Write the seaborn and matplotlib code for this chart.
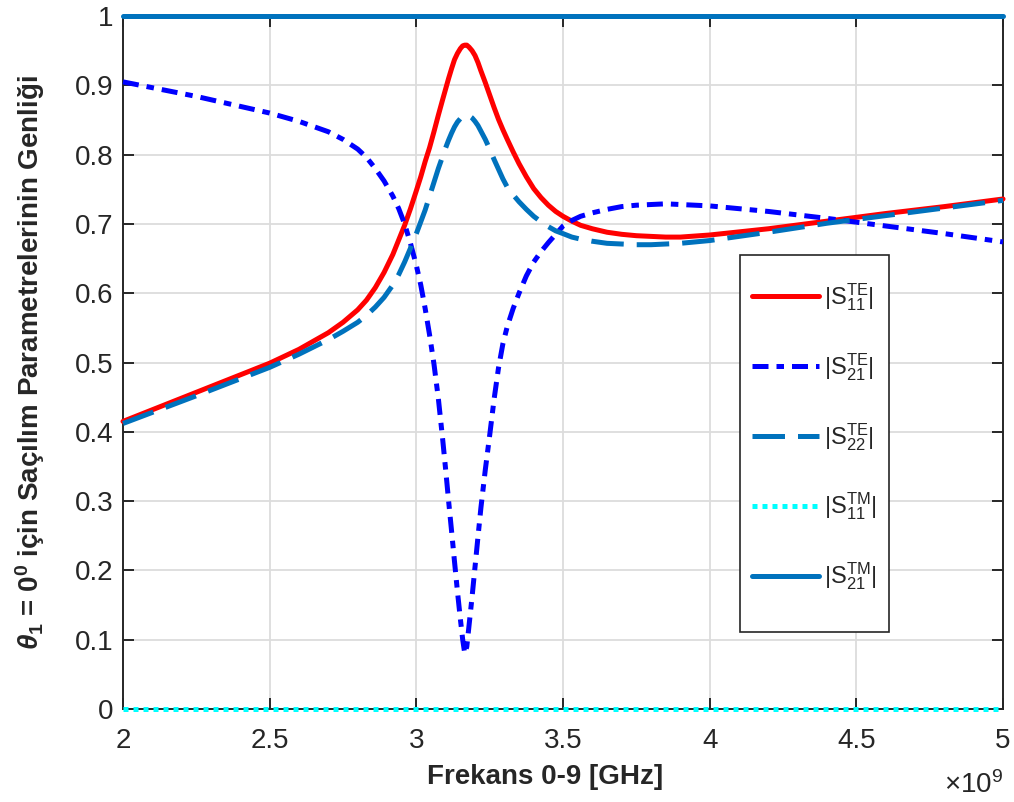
import numpy as np
import pandas as pd
import matplotlib
matplotlib.use("Agg")
import matplotlib.pyplot as plt
from matplotlib.patches import Rectangle
from matplotlib.ticker import FuncFormatter
import seaborn as sns

# Frequency samples (GHz) and magnitudes of the scattering parameters
freq_ghz = [2.0, 2.25, 2.5, 2.6, 2.7, 2.75, 2.8, 2.83, 2.86, 2.89, 2.92, 2.94,
            2.96, 2.98, 3.0, 3.015, 3.03, 3.045, 3.06, 3.075, 3.09, 3.10, 3.11,
            3.12, 3.13, 3.14, 3.15, 3.158, 3.165, 3.172, 3.18, 3.19, 3.2, 3.21,
            3.22, 3.235, 3.25, 3.265, 3.28, 3.295, 3.31, 3.33, 3.35, 3.375, 3.4,
            3.425, 3.45, 3.475, 3.5, 3.53, 3.56, 3.6, 3.65, 3.7, 3.75, 3.8, 3.85,
            3.9, 4.0, 4.2, 4.4, 4.6, 4.8, 5.0]

s11_te = [0.415, 0.457, 0.499, 0.519, 0.543, 0.558, 0.576, 0.590, 0.608, 0.630,
          0.656, 0.677, 0.698, 0.722, 0.748, 0.768, 0.790, 0.810, 0.833, 0.857,
          0.880, 0.895, 0.910, 0.924, 0.937, 0.946, 0.953, 0.957, 0.958, 0.958,
          0.955, 0.950, 0.943, 0.933, 0.921, 0.904, 0.886, 0.868, 0.851, 0.836,
          0.822, 0.804, 0.787, 0.768, 0.751, 0.738, 0.727, 0.718, 0.711, 0.704,
          0.698, 0.693, 0.688, 0.685, 0.683, 0.682, 0.681, 0.681, 0.684, 0.693,
          0.704, 0.715, 0.725, 0.736]

s21_te = [0.905, 0.884, 0.860, 0.848, 0.833, 0.822, 0.808, 0.796, 0.780, 0.762,
          0.740, 0.722, 0.700, 0.672, 0.640, 0.612, 0.578, 0.540, 0.498, 0.448,
          0.388, 0.345, 0.300, 0.257, 0.213, 0.170, 0.130, 0.100, 0.080, 0.090,
          0.122, 0.162, 0.205, 0.248, 0.290, 0.345, 0.395, 0.447, 0.492, 0.527,
          0.552, 0.578, 0.600, 0.625, 0.645, 0.660, 0.673, 0.685, 0.697, 0.705,
          0.711, 0.716, 0.721, 0.725, 0.727, 0.728, 0.729, 0.728, 0.726, 0.718,
          0.708, 0.697, 0.686, 0.674]

s22_te = [0.412, 0.452, 0.493, 0.512, 0.533, 0.545, 0.558, 0.568, 0.580, 0.594,
          0.612, 0.627, 0.645, 0.665, 0.686, 0.703, 0.720, 0.740, 0.760, 0.780,
          0.798, 0.810, 0.821, 0.831, 0.840, 0.847, 0.852, 0.855, 0.857, 0.857,
          0.856, 0.853, 0.848, 0.842, 0.834, 0.822, 0.808, 0.793, 0.779, 0.765,
          0.753, 0.742, 0.732, 0.721, 0.711, 0.703, 0.696, 0.690, 0.686, 0.681,
          0.678, 0.675, 0.672, 0.671, 0.670, 0.670, 0.671, 0.672, 0.676, 0.688,
          0.701, 0.712, 0.723, 0.734]

s11_tm = [0.0] * len(freq_ghz)
s21_tm = [1.0] * len(freq_ghz)

x_ticks = [2.0, 2.5, 3.0, 3.5, 4.0, 4.5, 5.0]
y_ticks = [0.0, 0.1, 0.2, 0.3, 0.4, 0.5, 0.6, 0.7, 0.8, 0.9, 1.0]

sns.set_theme(style="whitegrid")
plt.rcParams.update({
    "font.family": ["Liberation Sans", "DejaVu Sans"],
    "mathtext.fontset": "custom",
    "mathtext.rm": "Liberation Sans:bold",
    "mathtext.it": "Liberation Sans:italic:bold",
    "mathtext.bf": "Liberation Sans:bold",
    "mathtext.sf": "Liberation Sans",
})

freq_hz = np.array(freq_ghz) * 1e9
df = pd.DataFrame({
    "f": freq_hz,
    "s11_te": s11_te, "s21_te": s21_te, "s22_te": s22_te,
    "s11_tm": s11_tm, "s21_tm": s21_tm,
})

fig = plt.figure(figsize=(10.14, 8.02), dpi=100)
ax = fig.add_axes([0.1213, 0.1160, 0.8679, 0.8640])
ax.set_facecolor("white")

lw = 3.6
series = [
    ("s11_te", r"$\mathsf{|S_{11}^{TE}|}$", "#FF0000", "-"),
    ("s21_te", r"$\mathsf{|S_{21}^{TE}|}$", "#0000FF", (0, (3.2, 1.6, 1.5, 1.6))),
    ("s22_te", r"$\mathsf{|S_{22}^{TE}|}$", "#0072BD", (0, (6.5, 2.6))),
    ("s11_tm", r"$\mathsf{|S_{11}^{TM}|}$", "#00FFFF", (0, (1, 1))),
    ("s21_tm", r"$\mathsf{|S_{21}^{TM}|}$", "#0072BD", "-"),
]
for col, lab, colr, ls in series:
    sns.lineplot(data=df, x="f", y=col, ax=ax, color=colr, linewidth=lw,
                 linestyle=ls, label=lab, clip_on=False, zorder=3)

ax.set_xlim(2e9, 5e9)
ax.set_ylim(0, 1)
ax.set_xticks([t * 1e9 for t in x_ticks])
ax.xaxis.set_major_formatter(FuncFormatter(lambda v, p: f"{v / 1e9:g}"))
ax.set_yticks(y_ticks)
ax.yaxis.set_major_formatter(FuncFormatter(lambda v, p: f"{v:g}"))

ax.grid(True, color="#dcdcdc", linewidth=1.3)
for sp in ax.spines.values():
    sp.set_visible(True)
    sp.set_color("#262626")
    sp.set_linewidth(1.4)
ax.tick_params(axis="both", which="both", direction="in", length=8, width=1.4,
               color="#262626", labelsize=20, labelcolor="#262626",
               top=True, right=True, bottom=True, left=True)
ax.tick_params(axis="x", pad=14)
ax.tick_params(axis="y", pad=7)

ax.set_xlabel("Frekans 0-9 [GHz]", fontsize=20, fontweight="bold",
              color="#262626")
ax.xaxis.set_label_coords(0.4795, -0.079)
ax.set_ylabel(r"$\theta_1$ = $0^0$ için Saçılım Parametrelerinin Genliği",
              fontsize=20, fontweight="bold", color="#262626", labelpad=20)
ax.text(1.0, -0.11, r"$\mathsf{\times 10^{9}}$", transform=ax.transAxes,
        ha="right", va="center", fontsize=20, color="#262626")

# Legend box drawn as its own frame, entries placed inside it
ax.add_patch(Rectangle((0.7011, 0.1111), 0.1694, 0.5440, transform=ax.transAxes,
                       facecolor="white", edgecolor="#262626", linewidth=1.2,
                       zorder=4, clip_on=False))
leg = ax.legend(loc="upper left", bbox_to_anchor=(0.7148, 0.6177), fontsize=17,
                frameon=False, handlelength=2.85, handletextpad=0.2,
                labelspacing=1.62, borderpad=0, borderaxespad=0)
leg.set_zorder(5)

fig.savefig("out.png", dpi=100, facecolor="white")
